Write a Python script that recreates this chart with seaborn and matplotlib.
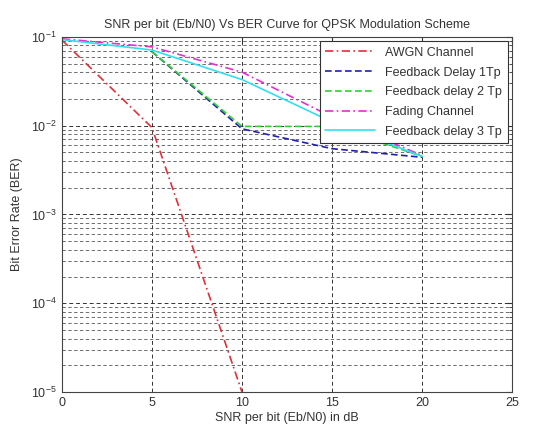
import numpy as np
import pandas as pd
import matplotlib
matplotlib.use("Agg")
import matplotlib.pyplot as plt
import seaborn as sns

# valores (BER em escala log)
snr_awgn = [0, 5, 10]
ber_awgn = [0.092, 0.0095, 1e-5]

snr_fb1 = [5, 10, 15, 20]
ber_fb1 = [0.068, 0.0092, 0.0055, 0.0044]

snr_fb2 = [5, 10, 15, 20]
ber_fb2 = [0.068, 0.0098, 0.0098, 0.0045]

snr_fad = [0, 5, 10, 15, 20]
ber_fad = [0.095, 0.077, 0.040, 0.0125, 0.0046]

snr_fb3 = [0, 5, 10, 15, 20]
ber_fb3 = [0.093, 0.071, 0.033, 0.0110, 0.0045]

labels = ["AWGN Channel", "Feedback Delay 1Tp", "Feedback delay 2 Tp",
          "Fading Channel", "Feedback delay 3 Tp"]

sns.set_style("white")
plt.rcParams['font.family'] = ['Liberation Sans', 'DejaVu Sans']

fig = plt.figure(figsize=(5.38, 4.28), dpi=100)
ax = fig.add_axes([0.115, 0.084, 0.837, 0.83])

series = [
    (snr_awgn, ber_awgn, "#e0303a", (0, (5, 2, 1, 2))),
    (snr_fb1, ber_fb1, "#2020b0", (0, (4, 2))),
    (snr_fb2, ber_fb2, "#30d030", (0, (4, 2))),
    (snr_fad, ber_fad, "#e030d0", (0, (5, 2, 1, 2))),
    (snr_fb3, ber_fb3, "#30e0f0", "-"),
]
for (x, y, cor, estilo), nome in zip(series, labels):
    sns.lineplot(x=x, y=y, ax=ax, color=cor, linestyle=estilo,
                 linewidth=1.2, label=nome)

ax.set_yscale("log")
ax.set_xlim(0, 25)
ax.set_ylim(1e-5, 1e-1)
ax.set_xticks([0, 5, 10, 15, 20, 25])

ax.grid(True, which="major", color="#333333", linestyle=(0, (4, 3)), linewidth=0.7)
ax.grid(True, which="minor", axis="y", color="#555555", linestyle=(0, (4, 3)), linewidth=0.6)

ax.tick_params(which="both", direction="in", top=True, right=True, labelsize=9, colors="#333333")
ax.tick_params(which="major", length=4)
ax.tick_params(which="minor", length=2)
for s in ax.spines.values():
    s.set_color("#444444")
    s.set_linewidth(0.8)

ax.set_title("SNR per bit (Eb/N0) Vs BER Curve for QPSK Modulation Scheme", fontsize=9, color="#333333", pad=6)
ax.set_xlabel("SNR per bit (Eb/N0) in dB", fontsize=9, color="#333333", labelpad=2)
ax.set_ylabel("Bit Error Rate (BER)", fontsize=9, color="#333333", labelpad=6)

leg = ax.legend(loc="upper right", fontsize=9, handlelength=4, fancybox=False,
                framealpha=1, edgecolor="#333333", borderaxespad=0.35,
                labelspacing=0.62, borderpad=0.45)
leg.get_frame().set_linewidth(0.8)
for t in leg.get_texts():
    t.set_color("#333333")

fig.savefig("out.png", dpi=100)
